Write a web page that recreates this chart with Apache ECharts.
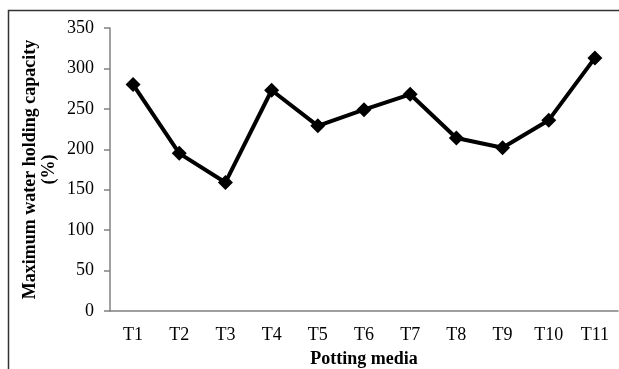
<!DOCTYPE html>
<html>
<head>
<meta charset="utf-8">
<script src="https://cdn.jsdelivr.net/npm/echarts@6/dist/echarts.min.js"></script>
<style>html,body{margin:0;padding:0;background:#fff}#c{width:619px;height:369px}</style>
</head>
<body>
<div id="c"></div>
<script>
var categories = ['T1','T2','T3','T4','T5','T6','T7','T8','T9','T10','T11'];
var values = [280, 195, 159, 273, 229, 249, 268, 214, 202, 236, 313];
var yTicks = {min: 0, max: 350, interval: 50};
var xTitle = 'Potting media';
var yTitle = 'Maximum water holding capacity\n(%)';

var chart = echarts.init(document.getElementById('c'), null, {renderer: 'canvas'});
var font = 'Liberation Serif, Times New Roman, serif';
chart.setOption({
  animation: false,
  backgroundColor: '#fff',
  graphic: [{
    type: 'polyline',
    shape: {points: [[8.5, 369], [8.5, 10.5], [619, 10.5]]},
    style: {stroke: '#333', lineWidth: 1.5, fill: null}
  }],
  grid: {left: 110, right: 1, top: 28, bottom: 58, containLabel: false, outerBoundsMode: 'none'},
  xAxis: {
    type: 'category',
    data: categories,
    boundaryGap: true,
    name: xTitle,
    nameLocation: 'middle',
    nameGap: 39,
    nameMoveOverlap: false,
    nameTextStyle: {fontFamily: font, fontWeight: 'bold', fontSize: 18, color: '#000'},
    axisLine: {lineStyle: {color: '#808080', width: 1.5}},
    axisTick: {show: false},
    axisLabel: {fontFamily: font, fontSize: 18, color: '#000', margin: 15}
  },
  yAxis: {
    type: 'value',
    min: yTicks.min, max: yTicks.max, interval: yTicks.interval,
    name: yTitle,
    nameLocation: 'middle',
    nameGap: 51,
    nameMoveOverlap: false,
    nameTextStyle: {fontFamily: font, fontWeight: 'bold', fontSize: 18, color: '#000', lineHeight: 19},
    axisLine: {show: true, lineStyle: {color: '#808080', width: 1.5}},
    axisTick: {show: true, length: 6, lineStyle: {color: '#808080', width: 1.5}},
    splitLine: {show: false},
    axisLabel: {fontFamily: font, fontSize: 18, color: '#000', margin: 16}
  },
  series: [{
    type: 'line',
    data: values,
    symbol: 'diamond',
    symbolSize: 15,
    lineStyle: {color: '#000', width: 4},
    itemStyle: {color: '#000'}
  }]
});
</script>
</body>
</html>
